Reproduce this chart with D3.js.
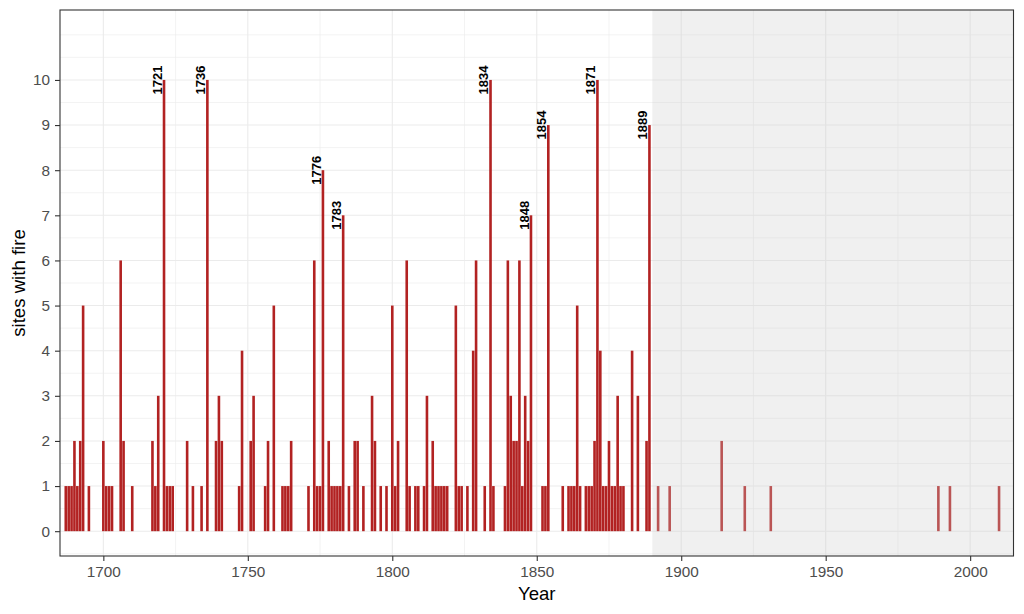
<!DOCTYPE html>
<html>
<head>
<meta charset="utf-8">
<script src="https://cdn.jsdelivr.net/npm/d3@7"></script>
<style>
  body { margin: 0; background: #fff; }
  text { font-family: "Liberation Sans", Arial, sans-serif; }
</style>
</head>
<body>
<div id="graph"></div>
<script>
// years with at least one site burning, and how many sites
let years = [
    1687, 1688, 1689, 1690, 1691, 1692, 1693, 1695,
    1700, 1701, 1702, 1703, 1706, 1707, 1710,
    1717, 1718, 1719, 1721, 1722, 1723, 1724,
    1729, 1731, 1734, 1736, 1739, 1740, 1741,
    1747, 1748, 1751, 1752, 1756, 1757, 1759,
    1762, 1763, 1764, 1765,
    1771, 1773, 1774, 1775, 1776, 1778, 1779, 1780, 1781, 1782, 1783,
    1785, 1787, 1788, 1790, 1793, 1794, 1796, 1798,
    1800, 1801, 1802, 1805, 1806, 1808, 1809, 1811, 1812, 1814, 1815, 1816, 1817, 1818, 1819,
    1822, 1823, 1824, 1826, 1828, 1829, 1832, 1834, 1835,
    1839, 1840, 1841, 1842, 1843, 1844, 1845, 1846, 1847, 1848,
    1852, 1853, 1854, 1859, 1861, 1862, 1863, 1864, 1865,
    1867, 1868, 1869, 1870, 1871, 1872, 1873, 1874, 1875, 1876, 1877, 1878, 1879, 1880,
    1883, 1885, 1888, 1889,
    1892, 1896, 1914, 1922, 1931, 1989, 1993, 2010
]
let sites = [
    1, 1, 1, 2, 1, 2, 5, 1,
    2, 1, 1, 1, 6, 2, 1,
    2, 1, 3, 10, 1, 1, 1,
    2, 1, 1, 10, 2, 3, 2,
    1, 4, 2, 3, 1, 2, 5,
    1, 1, 1, 2,
    1, 6, 1, 1, 8, 2, 1, 1, 1, 1, 7,
    1, 2, 2, 1, 3, 2, 1, 1,
    5, 1, 2, 6, 1, 1, 1, 1, 3, 2, 1, 1, 1, 1, 1,
    5, 1, 1, 1, 4, 6, 1, 10, 1,
    1, 6, 3, 2, 2, 6, 1, 3, 2, 7,
    1, 1, 9, 1, 1, 1, 1, 5, 1,
    1, 1, 1, 2, 10, 4, 1, 1, 2, 1, 1, 3, 1, 1,
    4, 3, 2, 9,
    1, 1, 2, 1, 1, 1, 1, 1
]
let xTicks = [1700, 1750, 1800, 1850, 1900, 1950, 2000]
let yTicks = [0, 1, 2, 3, 4, 5, 6, 7, 8, 9, 10]
let shadeFrom = 1890      // grey part of the record
let labelMin = 7          // bars this tall get their year written

let data = years.map(function (y, i) {
    return { year: y, n: sites[i] };
});

let W = 1024, H = 614;
let panel = { left: 60, right: 1013.5, top: 10, bottom: 556 };

let svg = d3.select("#graph")
    .append("svg")
    .attr("width", W)
    .attr("height", H);

let x = d3.scaleLinear()
    .domain([1685, 2015])
    .range([panel.left, panel.right]);

let y = d3.scaleLinear()
    .domain([-0.55, 11.55])
    .range([panel.bottom, panel.top]);

// grid (minor first, then major)
let xMinor = [1725, 1775, 1825, 1875, 1925, 1975];
let yMinor = d3.range(-0.5, 11.01, 0.5).filter(function (v) { return yTicks.indexOf(v) < 0; });

let grid = svg.append("g");
grid.selectAll(".vmin").data(xMinor).enter().append("line")
    .attr("x1", function (d) { return x(d); }).attr("x2", function (d) { return x(d); })
    .attr("y1", panel.top).attr("y2", panel.bottom)
    .attr("stroke", "#EBEBEB").attr("stroke-width", 0.6);
grid.selectAll(".hmin").data(yMinor).enter().append("line")
    .attr("x1", panel.left).attr("x2", panel.right)
    .attr("y1", function (d) { return y(d); }).attr("y2", function (d) { return y(d); })
    .attr("stroke", "#EBEBEB").attr("stroke-width", 0.6);
grid.selectAll(".vmaj").data(xTicks).enter().append("line")
    .attr("x1", function (d) { return x(d); }).attr("x2", function (d) { return x(d); })
    .attr("y1", panel.top).attr("y2", panel.bottom)
    .attr("stroke", "#EBEBEB").attr("stroke-width", 1.1);
grid.selectAll(".hmaj").data(yTicks).enter().append("line")
    .attr("x1", panel.left).attr("x2", panel.right)
    .attr("y1", function (d) { return y(d); }).attr("y2", function (d) { return y(d); })
    .attr("stroke", "#EBEBEB").attr("stroke-width", 1.1);

// bars
let bw = x(1685.9) - x(1685);
svg.append("g")
    .selectAll("rect")
    .data(data)
    .enter()
    .append("rect")
    .attr("x", function (d) { return x(d.year) - bw / 2; })
    .attr("y", function (d) { return y(d.n); })
    .attr("width", bw)
    .attr("height", function (d) { return y(0) - y(d.n); })
    .attr("fill", "#B22222");

// year labels on the big ones
svg.append("g")
    .selectAll("text")
    .data(data.filter(function (d) { return d.n >= labelMin; }))
    .enter()
    .append("text")
    .attr("transform", function (d) {
        return "translate(" + (x(d.year) - 2.2) + "," + y(d.n) + ") rotate(-90)";
    })
    .attr("text-anchor", "middle")
    .attr("font-size", 13)
    .attr("font-weight", "bold")
    .attr("fill", "#000")
    .text(function (d) { return d.year; });

// shaded period, drawn over the bars
svg.append("rect")
    .attr("x", x(shadeFrom))
    .attr("y", panel.top)
    .attr("width", panel.right - x(shadeFrom))
    .attr("height", panel.bottom - panel.top)
    .attr("fill", "#CCCCCC")
    .attr("opacity", 0.3);

// panel border
svg.append("rect")
    .attr("x", panel.left)
    .attr("y", panel.top)
    .attr("width", panel.right - panel.left)
    .attr("height", panel.bottom - panel.top)
    .attr("fill", "none")
    .attr("stroke", "#333333")
    .attr("stroke-width", 1.1);

// axes
let xAxis = svg.append("g")
    .attr("transform", "translate(0," + panel.bottom + ")")
    .call(d3.axisBottom(x).tickValues(xTicks).tickFormat(d3.format("d")).tickSize(5).tickPadding(5));
let yAxis = svg.append("g")
    .attr("transform", "translate(" + panel.left + ",0)")
    .call(d3.axisLeft(y).tickValues(yTicks).tickSize(5).tickPadding(5));

[xAxis, yAxis].forEach(function (a) {
    a.select(".domain").remove();
    a.selectAll(".tick line").attr("stroke", "#333333").attr("stroke-width", 1.1);
    a.selectAll(".tick text")
        .attr("fill", "#4D4D4D")
        .attr("font-size", 15.3)
        .attr("font-family", "Liberation Sans, Arial, sans-serif");
});

// titles
svg.append("text")
    .attr("x", (panel.left + panel.right) / 2)
    .attr("y", 599.5)
    .attr("text-anchor", "middle")
    .attr("font-size", 18.6)
    .attr("fill", "#000")
    .text("Year");

svg.append("text")
    .attr("transform", "translate(25," + (panel.top + panel.bottom) / 2 + ") rotate(-90)")
    .attr("text-anchor", "middle")
    .attr("font-size", 18.6)
    .attr("fill", "#000")
    .text("sites with fire");
</script>
</body>
</html>
